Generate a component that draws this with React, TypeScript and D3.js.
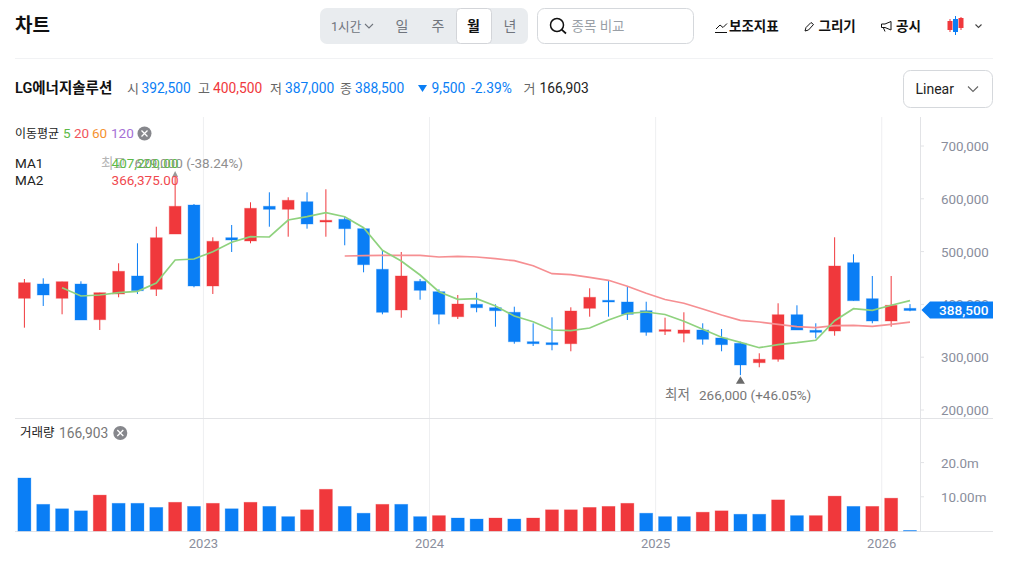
import React from "react";
import * as d3 from "d3";

// [open, high, low, close] per month, starting 2022-03
const opens = [411550,438600,411550,438600,371050,419700,453800,428600,533300,588250,434850,526300,520100,585800,580100,594500,556050,561200,543400,466500,389400,443750,424050,376700,400200,393750,385050,329350,327450,325550,392600,407750,404550,388050,349050,345250,351500,336350,326350,289600,296050,380500,350950,349600,479000,410800,368550,392500];
const highs = [448100,449400,443000,443750,422150,477850,515700,547150,641300,590150,527100,550400,593400,612300,602850,612300,618000,566100,544000,501700,499250,448100,428600,417800,422150,400200,395650,364200,375550,394500,430500,444300,434850,405100,374800,385050,364200,353400,329350,307400,402100,398300,364200,527100,494900,453800,453800,400500];
const lows = [355900,397000,381250,370450,351500,413450,419700,415900,533300,432400,419700,499250,515700,547150,528200,543400,528200,511950,460800,381250,374800,408900,362300,372350,385050,357750,325550,321200,313050,311200,376700,376700,370450,340700,342050,328200,323700,311200,266000,280900,291500,351500,335800,340700,407000,364200,357750,387000];
const closes = [441100,417800,443000,370450,422150,462700,425950,526300,585800,434850,519500,522000,582000,580100,597150,552300,559300,543400,475200,385050,453800,426700,381250,400750,393750,388050,329350,325550,323700,387500,413450,404550,381250,347150,352100,351500,333900,323700,285250,296050,380500,351500,347150,472700,407000,368550,398300,388500];

const ma1Start = 2;
const ma1Values = [431650,415900,417800,422150,424800,440550,484100,486000,499800,517600,528200,527650,559850,566100,573700,566100,545250,502450,482200,455700,424050,409650,410800,397000,378050,367250,351500,350200,355300,370450,383150,385600,380900,368000,352850,337700,328200,318000,323700,327450,332000,369150,391850,388850,398300,407200];
const ma2Start = 17;
const ma2Values = [491650,492250,493000,493000,493000,489800,491100,489800,486550,482750,473300,458150,456250,451300,445650,434300,421000,409300,402100,391300,379950,369900,366650,362300,357750,355900,359650,360400,358500,362300,366375];

const volumes = [15.5,7.8,6.5,5.9,10.5,8.1,8.1,6.9,8.4,7.2,8.1,6.5,8.4,7.2,4.2,6.2,12.2,7.2,5.2,7.8,7.8,4.2,4.5,3.8,3.5,3.8,3.5,3.8,6.2,6.2,6.9,7.2,8.1,5.2,4.2,4.2,5.5,5.9,4.9,4.9,9.1,4.5,4.5,10.2,7.2,7.2,9.6,0.167];
const volumeUp = [0,0,0,0,1,0,0,0,1,0,1,0,1,0,0,1,1,0,0,1,0,0,1,0,0,1,0,1,1,1,1,1,1,0,0,0,1,1,0,0,1,0,1,1,0,1,1,0];

const priceTicks = [200000,300000,400000,500000,600000,700000];
const priceTickLabels = ["200,000","300,000","400,000","500,000","600,000","700,000"];
const volumeTicks = [10,20];
const volumeTickLabels = ["10.00m","20.0m"];
const yearTicks = [9.5,21.5,33.5,45.5];
const yearLabels = ["2023","2024","2025","2026"];

const RED = "#f0383c";
const BLUE = "#0a7ef5";
const GRID = "#eeeff1";
const AXIS = "#e2e3e6";
const TICKTXT = "#8a8e9c";
const FONT = "Roboto, 'Noto Sans CJK KR', sans-serif";

const x = d3.scaleLinear().domain([0, 47]).range([24.4, 910]);
const y = d3.scaleLinear().domain([200000, 700000]).range([410, 146]);
const yv = d3.scaleLinear().domain([0, 20]).range([531, 462.6]);

const lineFor = (start: number) =>
  d3.line<number>().x((_, i) => x(i + start)).y((v) => y(v));

const Close = ({ cx, cy }: { cx: number; cy: number }) => (
  <g>
    <circle cx={cx} cy={cy} r={7} fill="#86878c" />
    <path d={`M${cx - 3} ${cy - 3}L${cx + 3} ${cy + 3}M${cx + 3} ${cy - 3}L${cx - 3} ${cy + 3}`} stroke="#fff" strokeWidth={1.3} />
  </g>
);
const Chev = ({ cx, cy, w = 4.5, c = "#777" }: { cx: number; cy: number; w?: number; c?: string }) => (
  <path d={`M${cx - w} ${cy - w / 2}L${cx} ${cy + w / 2}L${cx + w} ${cy - w / 2}`} fill="none" stroke={c} strokeWidth={1.1} />
);
const T = (p: any) => <text fontFamily={FONT} fontSize={14} {...p} />;

export default function App() {
  const bw = 11.8;
  const vw = 13;
  return (
    <svg width={1012} height={570} viewBox="0 0 1012 570" style={{ position: "absolute", left: 0, top: 0, display: "block", background: "#fff" }}>
      {/* header */}
      <T x={15} y={32} fontSize={19} fontWeight={700} fill="#111">차트</T>
      <rect x={320} y={8} width={208} height={36} rx={7} fill="#e9ecef" />
      <rect x={456.5} y={8.5} width={35} height={35} rx={4} fill="#fff" stroke="#d3d5d9" />
      <T x={331} y={31} fontSize={12.6} fill="#70757d">1시간</T>
      <Chev cx={369} cy={26} w={4} c="#70757d" />
      <T x={402} y={31} textAnchor="middle" fill="#70757d">일</T>
      <T x={438} y={31} textAnchor="middle" fill="#70757d">주</T>
      <T x={473.5} y={31} textAnchor="middle" fontWeight={600} fill="#111">월</T>
      <T x={510} y={31} textAnchor="middle" fill="#70757d">년</T>

      <rect x={537.5} y={8.5} width={156} height={35} rx={7} fill="#fff" stroke="#d5d8dc" />
      <circle cx={557} cy={25} r={6.5} fill="none" stroke="#111" strokeWidth={1.5} />
      <path d="M561.7 29.7L566 33.5" stroke="#111" strokeWidth={1.7} />
      <T x={571.5} y={31} fontSize={13.5} fill="#9a9fa6">종목 비교</T>

      <path d="M715 32.5H727M716 29L720 25L723 27.5L727 23.5" fill="none" stroke="#111" strokeWidth={1} />
      <T x={729} y={31} fontSize={13.5} fontWeight={600} fill="#111">보조지표</T>
      <path d="M805 31L806 27.5L811 22.5L813.5 24.5L808.5 30Z" fill="none" stroke="#111" strokeWidth={1} />
      <T x={818.5} y={31} fontSize={13.5} fontWeight={600} fill="#111">그리기</T>
      <path d="M881.5 24H885L891 21.5V30L885 27.5H881.5ZM883.5 28L885 31.5" fill="none" stroke="#111" strokeWidth={1} />
      <T x={896} y={31} fontSize={13.5} fontWeight={600} fill="#111">공시</T>
      <path d="M950 19V32M961 17V30" stroke={RED} strokeWidth={1} />
      <rect x={947.5} y={21} width={5} height={9} fill={RED} />
      <rect x={958.5} y={18} width={5} height={10} fill={RED} />
      <path d="M955.5 16V35" stroke={BLUE} strokeWidth={1} />
      <rect x={953} y={19} width={5} height={13} fill={BLUE} />
      <Chev cx={978.5} cy={26} w={3} c="#444" />

      <line x1={15} x2={993} y1={58.5} y2={58.5} stroke="#f1f2f4" />

      {/* info row */}
      <T x={15} y={93} fontWeight={600} fontSize={14.5} fill="#111">LG에너지솔루션</T>
      <T x={127} y={93} fontSize={13} fill="#666">시</T>
      <T x={141.5} y={93} fontSize={13.8} fill={BLUE}>392,500</T>
      <T x={198} y={93} fontSize={13} fill="#666">고</T>
      <T x={213} y={93} fontSize={13.8} fill={RED}>400,500</T>
      <T x={270} y={93} fontSize={13} fill="#666">저</T>
      <T x={285} y={93} fontSize={13.8} fill={BLUE}>387,000</T>
      <T x={340} y={93} fontSize={13} fill="#666">종</T>
      <T x={355} y={93} fontSize={13.8} fill={BLUE}>388,500</T>
      <path d="M418 85H427L422.5 92Z" fill={BLUE} />
      <T x={431.5} y={93} fontSize={13.8} fill={BLUE}>9,500</T>
      <T x={471} y={93} fontSize={13.8} fill={BLUE}>-2.39%</T>
      <T x={523.5} y={93} fontSize={13} fill="#666">거</T>
      <T x={539.5} y={93} fontSize={13.8} fill="#222">166,903</T>

      <rect x={903.5} y={70.5} width={89} height={37} rx={7} fill="#fff" stroke="#d5d8dc" />
      <T x={915.5} y={94} fill="#222">Linear</T>
      <Chev cx={973} cy={89} w={5} c="#666" />

      {/* grid */}
      {yearTicks.map((t) => (
        <line key={t} x1={x(t)} x2={x(t)} y1={117} y2={531} stroke={GRID} />
      ))}
      <line x1={920.5} x2={920.5} y1={117} y2={531} stroke={AXIS} />
      <line x1={15} x2={993} y1={418.5} y2={418.5} stroke={AXIS} />
      <line x1={15} x2={993} y1={531.5} y2={531.5} stroke={AXIS} />

      {/* price axis */}
      {priceTicks.map((t, i) => (
        <g key={t}>
          <line x1={921} x2={924} y1={y(t)} y2={y(t)} stroke={AXIS} />
          <T x={941} y={y(t) + 5} fontSize={13.4} fill={TICKTXT}>{priceTickLabels[i]}</T>
        </g>
      ))}
      {/* volume axis */}
      {volumeTicks.map((t, i) => (
        <g key={t}>
          <line x1={921} x2={924} y1={yv(t)} y2={yv(t)} stroke={AXIS} />
          <T x={941} y={yv(t) + 5} fontSize={13.4} fill={TICKTXT}>{volumeTickLabels[i]}</T>
        </g>
      ))}
      {yearTicks.map((t, i) => (
        <T key={t} x={x(t)} y={548} textAnchor="middle" fontSize={13} fill={TICKTXT}>{yearLabels[i]}</T>
      ))}

      {/* candles */}
      {opens.map((o, i) => {
        const c = closes[i];
        const col = c >= o ? RED : BLUE;
        const px = x(i);
        const top = y(Math.max(o, c));
        const bot = y(Math.min(o, c));
        return (
          <g key={i}>
            <line x1={px} x2={px} y1={y(highs[i])} y2={y(lows[i])} stroke={col} strokeWidth={1} />
            <rect x={px - bw / 2} y={top} width={bw} height={Math.max(bot - top, 1.5)} fill={col} stroke={col} strokeOpacity={0.35} strokeWidth={1} />
          </g>
        );
      })}

      {/* moving averages */}
      <path d={lineFor(ma2Start)(ma2Values) ?? ""} fill="none" stroke="#f68f92" strokeWidth={1.7} />
      <path d={lineFor(ma1Start)(ma1Values) ?? ""} fill="none" stroke="#8fd27e" strokeWidth={1.7} />

      {/* volume */}
      {volumes.map((v, i) => (
        <rect
          key={i}
          x={x(i) - vw / 2}
          y={yv(v)}
          width={vw}
          height={yv(0) - yv(v)}
          fill={volumeUp[i] ? RED : BLUE}
          stroke={volumeUp[i] ? RED : BLUE}
          strokeOpacity={0.35}
          strokeWidth={0.8}
        />
      ))}

      {/* high / low markers */}
      <path d={`M${x(8)} ${y(highs[8]) - 6}L${x(8) + 3} ${y(highs[8])}H${x(8) - 3}Z`} fill="#999" />
      <T x={101} y={168} fontSize={13.5} fill="#b5b5b5">최고</T>
      <T x={243} y={168} textAnchor="end" fontSize={13.5} fill="#8f8f8f">629,000 (-38.24%)</T>
      <path d={`M${x(38)} ${y(266000) + 1}L${x(38) + 4.5} ${y(266000) + 8.5}H${x(38) - 4.5}Z`} fill="#6b6b6b" />
      <T x={665} y={399} fontSize={13.5} fill="#777">최저</T>
      <T x={699} y={400} fontSize={13.5} fill="#777">266,000 (+46.05%)</T>

      {/* legends */}
      <T x={15} y={138} fontSize={12} fill="#222">이동평균</T>
      <T x={63} y={138} fontSize={13.5} fill="#5cb946">5</T>
      <T x={74} y={138} fontSize={13.5} fill="#f0555c">20</T>
      <T x={92} y={138} fontSize={13.5} fill="#f5922f">60</T>
      <T x={111} y={138} fontSize={13.5} fill="#a56fd6">120</T>
      <Close cx={144.5} cy={133.5} />
      <T x={15} y={168} fontSize={13.5} fill="#222">MA1</T>
      <T x={15} y={185} fontSize={13.5} fill="#222">MA2</T>
      <T x={178.5} y={168} textAnchor="end" fontSize={13.5} fill="#5cb946">407,200.00</T>
      <T x={178.5} y={185} textAnchor="end" fontSize={13.5} fill="#f0484e">366,375.00</T>

      <T x={20} y={437} fontSize={12.5} fill="#222">거래량</T>
      <T x={59} y={438} fontSize={13.8} fill="#777">166,903</T>
      <Close cx={120.3} cy={433} />

      {/* price tag */}
      <path d="M921.5 310L930 301.5H993V318.5H930Z" fill={BLUE} />
      <T x={939} y={315} fontSize={13.6} fontWeight={500} fill="#fff">388,500</T>
    </svg>
  );
}
